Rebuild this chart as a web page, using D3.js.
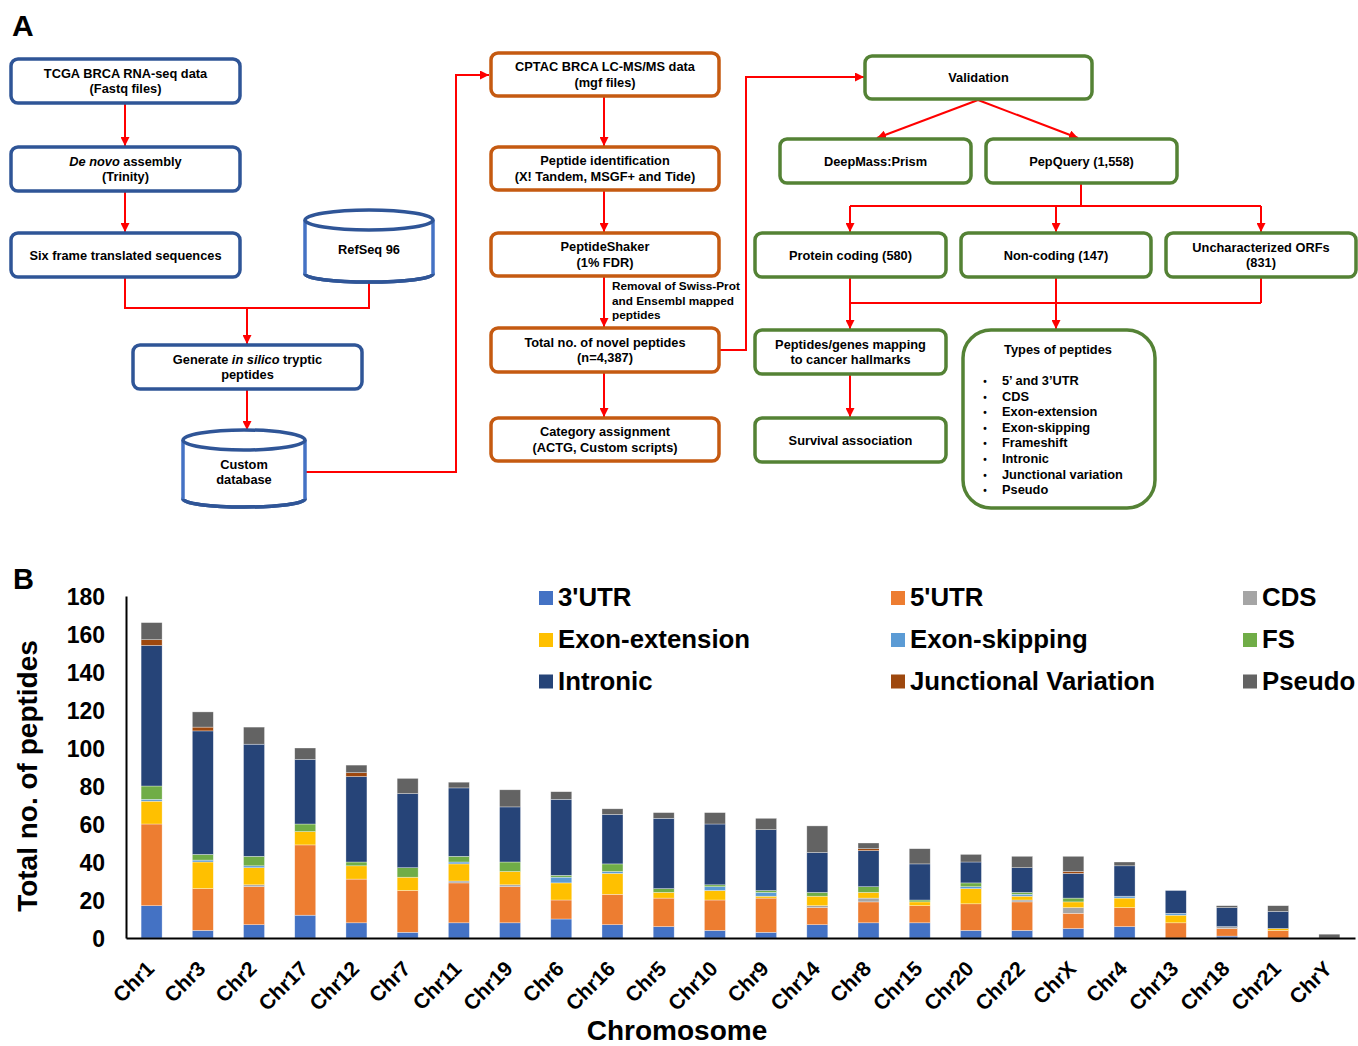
<!DOCTYPE html>
<html>
<head>
<meta charset="utf-8">
<script src="https://cdn.jsdelivr.net/npm/d3@7"></script>
<style>
  body { margin: 0; background: #fff; }
  svg { display: block; font-family: "Liberation Sans", Arial, sans-serif; font-weight: bold; }
</style>
</head>
<body>
<svg id="fig" width="1358" height="1046"></svg>
<script>
// ---- Panel B data: novel peptides per chromosome, by category ----
const categories = ["Chr1","Chr3","Chr2","Chr17","Chr12","Chr7","Chr11","Chr19","Chr6","Chr16","Chr5","Chr10",
                    "Chr9","Chr14","Chr8","Chr15","Chr20","Chr22","ChrX","Chr4","Chr13","Chr18","Chr21","ChrY"];
const seriesNames = ["3'UTR","5'UTR","CDS","Exon-extension","Exon-skipping","FS","Intronic","Junctional Variation","Pseudo"];
const utr3        = [17, 4, 7,12, 8, 3, 8, 8,10, 7, 6, 4, 3, 7, 8, 8, 4, 4, 5, 6, 0, 1, 0, 0];
const utr5        = [43,22,20,37,23,22,21,19,10,16,15,16,18, 9,11, 9,14,15, 8,10, 8, 4, 4, 0];
const cds         = [ 0, 0, 1, 0, 0, 0, 1, 1, 0, 0, 0, 0, 0, 1, 2, 0, 0, 1, 3, 0, 0, 1, 0, 0];
const exonExt     = [12,14, 9, 7, 7, 7, 9, 7, 9,11, 3, 5, 1, 5, 3, 2, 8, 2, 3, 5, 4, 0, 1, 0];
const exonSkip    = [ 1, 1, 1, 0, 0, 0, 1, 0, 3, 1, 0, 2, 2, 0, 0, 0, 1, 1, 0, 1, 1, 0, 0, 0];
const frameshift  = [ 7, 3, 5, 4, 2, 5, 3, 5, 1, 4, 2, 1, 1, 2, 3, 1, 2, 1, 2, 0, 0, 0, 0, 0];
const intronic    = [74,65,59,34,45,39,36,29,40,26,37,32,32,21,19,19,11,13,13,16,12,10, 9, 0];
const junctional  = [ 3, 2, 0, 0, 2, 0, 0, 0, 0, 0, 0, 0, 0, 0, 1, 0, 0, 0, 1, 0, 0, 0, 0, 0];
const pseudo      = [ 9, 8, 9, 6, 4, 8, 3, 9, 4, 3, 3, 6, 6,14, 3, 8, 4, 6, 8, 2, 0, 1, 3, 2];
const yTicks      = [0,20,40,60,80,100,120,140,160,180];

const seriesValues = [utr3, utr5, cds, exonExt, exonSkip, frameshift, intronic, junctional, pseudo];
const seriesColors = ["#4472C4","#ED7D31","#A5A5A5","#FFC000","#5B9BD5","#70AD47","#264478","#9E480E","#636363"];

const svg = d3.select("#fig");
const RED = "#FF0000";

// ---------- Panel A: workflow ----------
svg.append("defs").append("marker")
  .attr("id", "arrow").attr("viewBox", "0 0 10 10")
  .attr("refX", 10).attr("refY", 5)
  .attr("markerWidth", 9).attr("markerHeight", 9)
  .attr("markerUnits", "userSpaceOnUse").attr("orient", "auto")
  .append("path").attr("d", "M0,0 L10,5 L0,10 Z").attr("fill", RED);

svg.append("text").attr("x", 12).attr("y", 36).attr("font-size", 30).text("A");
svg.append("text").attr("x", 13).attr("y", 589).attr("font-size", 29).text("B");

const BLUE = "#2F5597", ORANGE = "#C55A11", GREEN = "#548235";
const FS = 12.8;

const boxes = [
  { x: 11,  y: 59,  w: 229, h: 44, c: BLUE, lines: ["TCGA BRCA RNA-seq data", "(Fastq files)"] },
  { x: 11,  y: 147, w: 229, h: 44, c: BLUE, lines: [[{ t: "De novo", i: 1 }, { t: " assembly" }], "(Trinity)"] },
  { x: 11,  y: 233, w: 229, h: 44, c: BLUE, lines: ["Six frame translated sequences"] },
  { x: 133, y: 345, w: 229, h: 44, c: BLUE, lines: [[{ t: "Generate " }, { t: "in silico", i: 1 }, { t: " tryptic" }], "peptides"] },
  { x: 491, y: 53,  w: 228, h: 43, c: ORANGE, lines: ["CPTAC BRCA LC-MS/MS data", "(mgf files)"] },
  { x: 491, y: 147, w: 228, h: 43, c: ORANGE, lines: ["Peptide identification", "(X! Tandem, MSGF+ and Tide)"] },
  { x: 491, y: 233, w: 228, h: 43, c: ORANGE, lines: ["PeptideShaker", "(1% FDR)"] },
  { x: 491, y: 328, w: 228, h: 44, c: ORANGE, lines: ["Total no. of novel peptides", "(n=4,387)"] },
  { x: 491, y: 418, w: 228, h: 43, c: ORANGE, lines: ["Category assignment", "(ACTG, Custom scripts)"] },
  { x: 865, y: 56,  w: 227, h: 43, c: GREEN, lines: ["Validation"] },
  { x: 780, y: 139, w: 191, h: 44, c: GREEN, lines: ["DeepMass:Prism"] },
  { x: 986, y: 139, w: 191, h: 44, c: GREEN, lines: ["PepQuery (1,558)"] },
  { x: 755, y: 233, w: 191, h: 44, c: GREEN, lines: ["Protein coding (580)"] },
  { x: 961, y: 233, w: 190, h: 44, c: GREEN, lines: ["Non-coding (147)"] },
  { x: 1166,y: 233, w: 190, h: 44, c: GREEN, lines: ["Uncharacterized ORFs", "(831)"] },
  { x: 755, y: 330, w: 191, h: 44, c: GREEN, lines: ["Peptides/genes mapping", "to cancer hallmarks"] },
  { x: 755, y: 418, w: 191, h: 44, c: GREEN, lines: ["Survival association"] }
];

const connectors = [
  { p: [[125,103],[125,146]], a: 1 },
  { p: [[125,191],[125,232]], a: 1 },
  { p: [[125,277],[125,308],[369,308],[369,282]] },
  { p: [[247,308],[247,344]], a: 1 },
  { p: [[247,390],[247,430]], a: 1 },
  { p: [[303,472],[456,472],[456,75],[489,75]], a: 1 },
  { p: [[604,97],[604,146]], a: 1 },
  { p: [[604,191],[604,232]], a: 1 },
  { p: [[604,277],[604,327]], a: 1 },
  { p: [[604,373],[604,417]], a: 1 },
  { p: [[720,350],[746,350],[746,77],[864,77]], a: 1 },
  { p: [[978,100],[877,138]], a: 1 },
  { p: [[978,100],[1078,138]], a: 1 },
  { p: [[1081,184],[1081,206]] },
  { p: [[850,206],[1261,206]] },
  { p: [[850,206],[850,232]], a: 1 },
  { p: [[1056,206],[1056,232]], a: 1 },
  { p: [[1261,206],[1261,232]], a: 1 },
  { p: [[850,278],[850,303]] },
  { p: [[1261,278],[1261,303]] },
  { p: [[850,303],[1261,303]] },
  { p: [[1056,278],[1056,329]], a: 1 },
  { p: [[850,303],[850,329]], a: 1 },
  { p: [[850,375],[850,417]], a: 1 }
];

const gLinks = svg.append("g");
connectors.forEach(cn => {
  gLinks.append("path")
    .attr("d", d3.line()(cn.p))
    .attr("fill", "none").attr("stroke", RED).attr("stroke-width", 2)
    .attr("marker-end", cn.a ? "url(#arrow)" : null);
});

function writeLines(g, cx, cy, lines, gap) {
  const n = lines.length;
  lines.forEach((ln, k) => {
    const yy = cy + (k - (n - 1) / 2) * gap + FS * 0.36;
    const t = g.append("text").attr("x", cx).attr("y", yy)
      .attr("text-anchor", "middle").attr("font-size", FS).attr("fill", "#000");
    const parts = typeof ln === "string" ? [{ t: ln }] : ln;
    parts.forEach(pt => t.append("tspan").attr("font-style", pt.i ? "italic" : null).text(pt.t));
  });
}

const gBoxes = svg.append("g");
boxes.forEach(b => {
  gBoxes.append("rect").attr("x", b.x).attr("y", b.y).attr("width", b.w).attr("height", b.h)
    .attr("rx", 7).attr("fill", "#fff").attr("stroke", b.c).attr("stroke-width", 3.5);
  writeLines(gBoxes, b.x + b.w / 2, b.y + b.h / 2, b.lines, 15.6);
});

// Database cylinders
function cylinder(cx, rx, yTop, ryTop, yBot, ryBot, lines) {
  const g = svg.append("g");
  g.append("ellipse").attr("cx", cx).attr("cy", yBot).attr("rx", rx).attr("ry", ryBot)
    .attr("fill", "#fff").attr("stroke", BLUE).attr("stroke-width", 3.5);
  g.append("rect").attr("x", cx - rx).attr("y", yTop).attr("width", 2 * rx).attr("height", yBot - yTop).attr("fill", "#fff");
  g.append("path").attr("d", `M${cx - rx},${yBot} A${rx},${ryBot} 0 0 0 ${cx + rx},${yBot}`)
    .attr("fill", "none").attr("stroke", BLUE).attr("stroke-width", 3.5);
  g.append("line").attr("x1", cx - rx).attr("x2", cx - rx).attr("y1", yTop).attr("y2", yBot)
    .attr("stroke", "#4472C4").attr("stroke-width", 3.5);
  g.append("line").attr("x1", cx + rx).attr("x2", cx + rx).attr("y1", yTop).attr("y2", yBot)
    .attr("stroke", "#4472C4").attr("stroke-width", 3.5);
  g.append("ellipse").attr("cx", cx).attr("cy", yTop).attr("rx", rx).attr("ry", ryTop)
    .attr("fill", "#fff").attr("stroke", BLUE).attr("stroke-width", 3.5);
  writeLines(g, cx, (yTop + yBot) / 2 + 2, lines, 15.2);
}
cylinder(369, 64, 220, 10, 274, 8, ["RefSeq 96"]);
cylinder(244, 61, 440, 10, 499, 8, ["Custom", "database"]);

// Filter note beside the PeptideShaker arrow
["Removal of Swiss-Prot", "and Ensembl mapped", "peptides"].forEach((s, k) => {
  svg.append("text").attr("x", 612).attr("y", 290 + k * 14.6).attr("font-size", 11.8).text(s);
});

// Peptide types box
const tb = { x: 963, y: 330, w: 192, h: 178 };
svg.append("rect").attr("x", tb.x).attr("y", tb.y).attr("width", tb.w).attr("height", tb.h)
  .attr("rx", 28).attr("fill", "#fff").attr("stroke", GREEN).attr("stroke-width", 3.5);
svg.append("text").attr("x", 1058).attr("y", 354).attr("text-anchor", "middle").attr("font-size", FS).text("Types of peptides");
const peptideTypes = ["5\u2019 and 3\u2019UTR", "CDS", "Exon-extension", "Exon-skipping", "Frameshift", "Intronic", "Junctional variation", "Pseudo"];
peptideTypes.forEach((s, k) => {
  const yy = 385 + k * 15.6;
  svg.append("text").attr("x", 985).attr("y", yy).attr("text-anchor", "middle").attr("font-size", 10).text("\u2022");
  svg.append("text").attr("x", 1002).attr("y", yy).attr("font-size", FS).text(s);
});

// ---------- Panel B: stacked bars ----------
const rows = categories.map((c, i) => {
  const r = { chr: c };
  seriesNames.forEach((s, k) => { r[s] = seriesValues[k][i]; });
  return r;
});
const stacked = d3.stack().keys(seriesNames)(rows);

const x = d3.scaleBand().domain(categories).range([126, 1355]).paddingInner(0.59).paddingOuter(0.295);
const y = d3.scaleLinear().domain([0, 180]).range([938, 596]);
const color = d3.scaleOrdinal().domain(seriesNames).range(seriesColors);

const gBars = svg.append("g");
stacked.forEach(layer => {
  gBars.append("g").attr("fill", color(layer.key))
    .selectAll("rect").data(layer).join("rect")
    .attr("x", d => x(d.data.chr))
    .attr("y", d => y(d[1]))
    .attr("width", x.bandwidth())
    .attr("height", d => y(d[0]) - y(d[1]))
    .attr("stroke", "#ffffff").attr("stroke-opacity", 0.55).attr("stroke-width", 0.6);
});

const yAxis = svg.append("g").attr("transform", "translate(126,0)")
  .call(d3.axisLeft(y).tickValues(yTicks).tickSize(0).tickSizeOuter(0).tickPadding(21));
yAxis.select(".domain").attr("stroke", "#000").attr("stroke-width", 2);
yAxis.selectAll("text").attr("font-size", 23).attr("font-family", "Liberation Sans, Arial, sans-serif")
  .attr("font-weight", "bold").attr("fill", "#000").attr("dy", "0.36em");

const xAxis = svg.append("g").attr("transform", "translate(0,938)")
  .call(d3.axisBottom(x).tickSize(0).tickSizeOuter(0));
xAxis.select(".domain").attr("stroke", "#000").attr("stroke-width", 2);
xAxis.selectAll("text")
  .attr("font-size", 21).attr("font-family", "Liberation Sans, Arial, sans-serif")
  .attr("font-weight", "bold").attr("fill", "#000")
  .attr("x", 0).attr("y", 0).attr("dy", 0)
  .attr("text-anchor", "end")
  .attr("transform", "translate(4,32) rotate(-45)");

svg.append("text").attr("transform", "translate(36.5,776) rotate(-90)")
  .attr("text-anchor", "middle").attr("font-size", 28).text("Total no. of peptides");
svg.append("text").attr("x", 677).attr("y", 1040)
  .attr("text-anchor", "middle").attr("font-size", 28).text("Chromosome");

// Legend: three columns, three rows
const legendCols = [539, 891, 1243];
const legendRows = [606, 648, 689.5];
seriesNames.forEach((s, k) => {
  const lx = legendCols[k % 3], ly = legendRows[Math.floor(k / 3)];
  svg.append("rect").attr("x", lx).attr("y", ly - 15).attr("width", 14).attr("height", 14).attr("fill", color(s));
  svg.append("text").attr("x", lx + 19).attr("y", ly).attr("font-size", 25.8).text(s);
});
</script>
</body>
</html>
